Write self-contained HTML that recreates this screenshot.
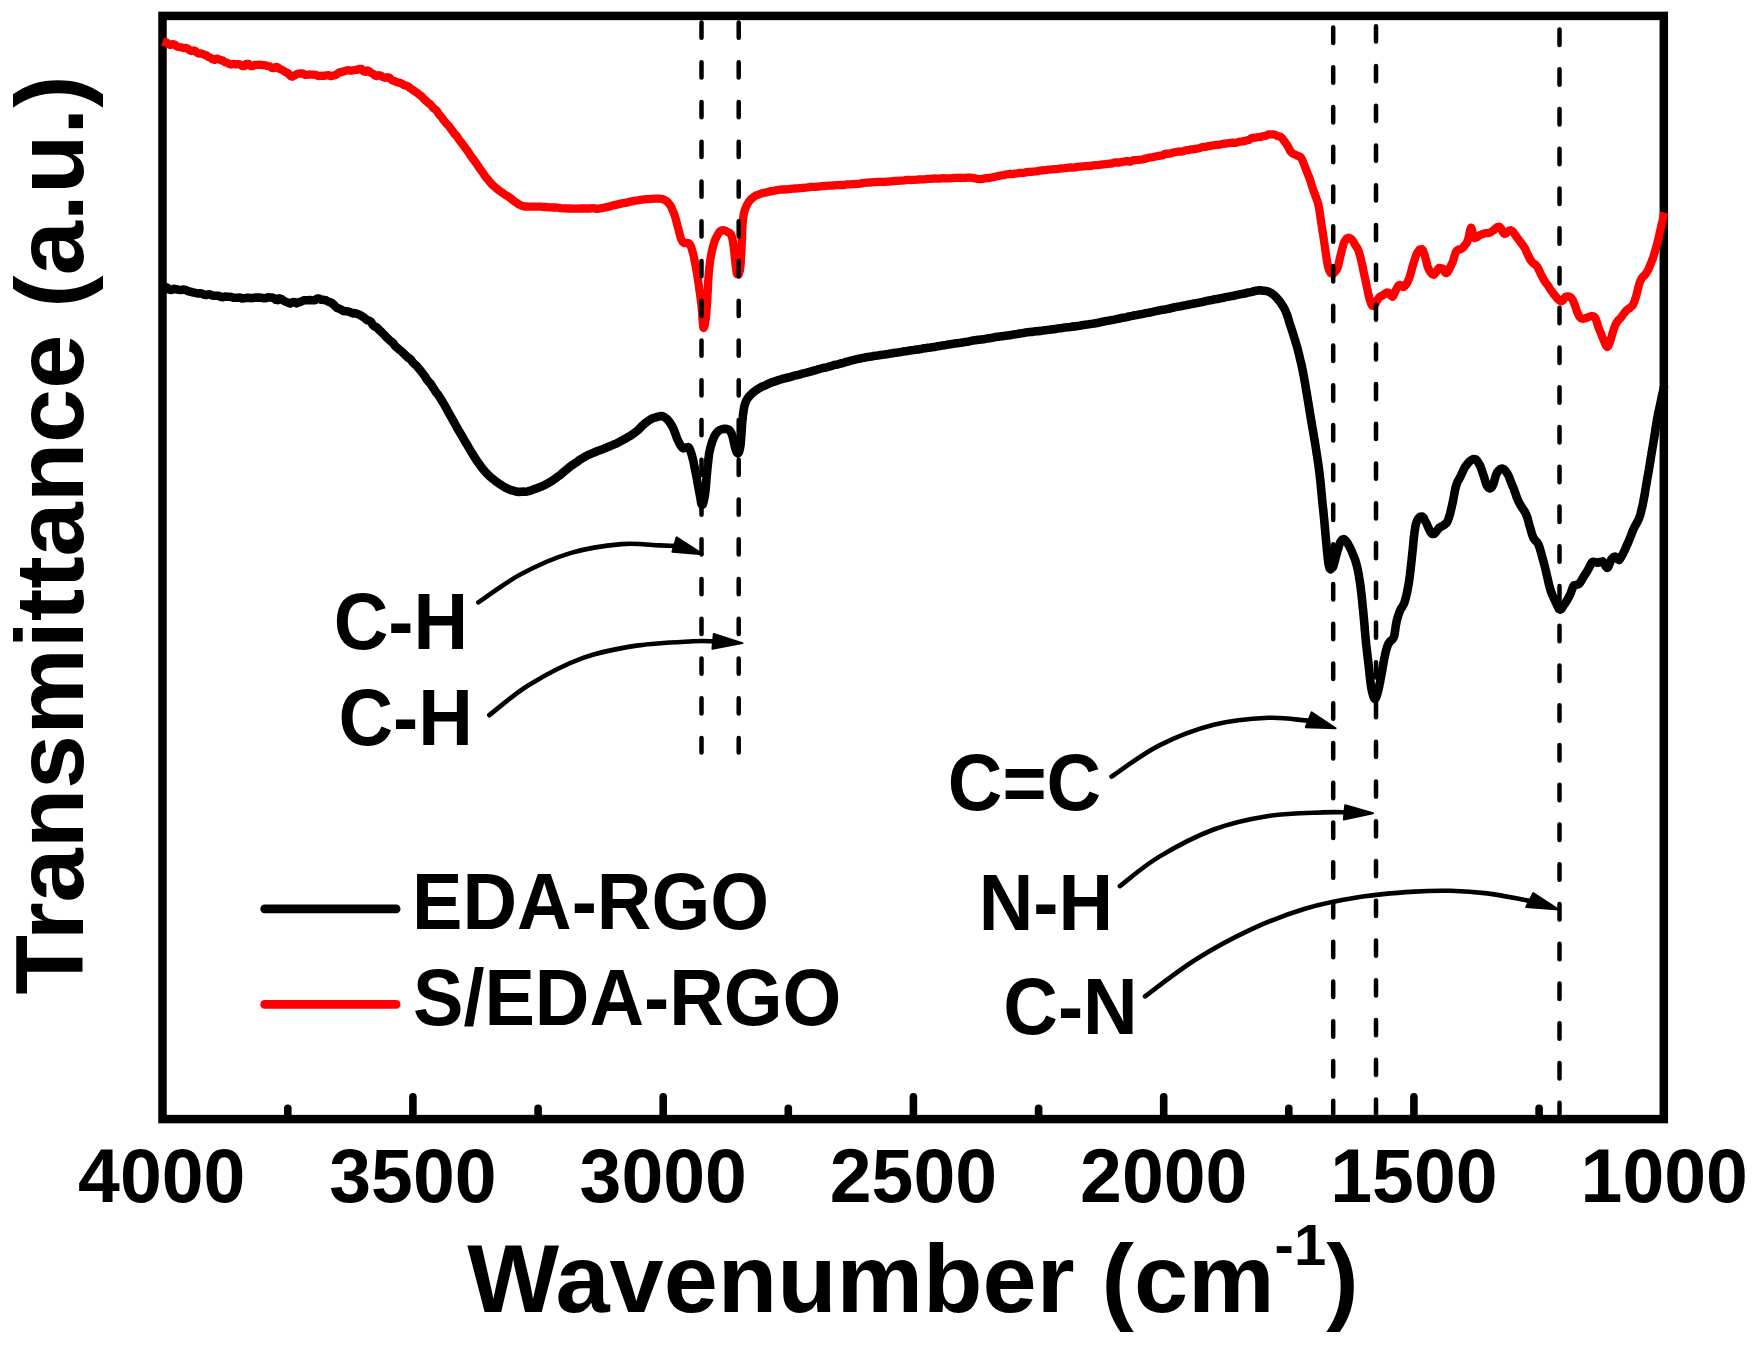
<!DOCTYPE html>
<html><head><meta charset="utf-8"><title>FTIR spectra</title>
<style>
html,body{margin:0;padding:0;background:#fff;}
body{width:1754px;height:1350px;overflow:hidden;}
svg{display:block;}
text{font-family:"Liberation Sans",Arial,Helvetica,sans-serif;font-weight:bold;fill:#000;}
</style></head><body>
<svg width="1754" height="1350" viewBox="0 0 1754 1350">
<rect x="0" y="0" width="1754" height="1350" fill="#fff"/>
<!-- frame -->
<rect x="162.5" y="15.9" width="1501.3" height="1103.2" fill="none" stroke="#000" stroke-width="8.5"/>
<!-- curves -->
<path d="M162.5 287.6L163.7 287.8L165.3 287.3L167.1 287.6L169.2 289.6L171.4 290.0L173.7 288.8L176.2 289.2L178.6 289.7L181.1 290.0L183.4 289.6L185.7 289.9L187.8 291.2L190.0 291.6L192.1 292.2L194.1 292.6L196.1 293.1L198.2 293.5L200.2 293.2L202.2 293.6L204.2 294.8L206.3 295.1L208.4 294.3L210.5 294.6L212.5 295.5L214.5 295.8L216.6 295.7L218.7 295.9L220.8 296.9L222.9 297.2L225.0 296.5L227.1 296.7L229.3 296.8L231.4 297.0L233.5 297.8L235.6 297.8L237.7 297.7L239.9 297.6L242.0 298.4L244.2 298.2L246.3 297.9L248.5 297.8L250.6 298.1L252.8 298.0L254.8 297.6L256.9 297.5L258.9 297.6L260.8 297.6L263.1 298.1L265.3 298.3L267.5 297.3L269.7 297.5L271.8 297.6L273.8 297.9L275.8 299.8L277.6 300.1L279.4 298.4L281.0 298.8L283.8 300.9L286.2 301.9L288.2 302.7L290.2 303.4L292.3 302.3L294.5 302.1L296.6 303.3L298.7 302.4L301.0 301.6L303.7 300.4L305.7 300.2L307.8 300.3L310.2 300.1L312.6 300.2L315.0 300.2L317.3 298.6L319.4 298.6L321.3 299.7L323.8 299.9L326.0 300.2L327.9 301.5L329.7 302.1L331.4 302.8L333.3 304.2L335.0 306.0L336.7 307.7L338.9 308.6L340.7 309.4L342.7 310.7L344.9 311.2L347.1 311.3L349.3 311.9L351.5 312.7L353.3 313.4L355.1 313.1L356.9 313.9L358.7 314.4L360.5 315.3L362.3 316.6L364.1 317.6L365.9 319.2L367.6 320.3L369.4 320.8L371.1 322.0L372.9 325.1L374.8 326.5L376.7 327.4L378.1 328.7L379.5 330.2L381.0 331.5L382.4 333.0L383.9 334.5L385.5 336.2L387.0 337.8L388.6 339.2L390.2 340.8L391.8 341.8L393.2 343.1L394.7 345.5L396.2 346.9L397.7 348.2L399.3 349.7L400.9 350.8L402.4 352.3L404.0 353.7L405.4 355.1L406.8 356.5L408.2 357.8L409.4 358.3L411.2 360.0L412.7 362.3L413.9 363.5L415.2 364.8L416.5 365.7L418.0 367.6L420.0 369.8L420.9 371.0L421.9 372.3L423.0 373.8L424.1 375.3L425.2 376.7L426.4 378.8L427.6 380.4L428.9 382.1L430.1 383.2L431.4 384.9L432.7 387.3L434.0 389.1L435.3 391.2L436.5 393.0L437.8 394.3L439.0 396.1L440.2 398.0L441.2 399.6L442.2 401.2L443.2 402.9L444.2 404.6L445.2 406.3L446.2 408.1L447.2 410.0L448.2 411.8L449.2 413.6L450.2 415.4L451.3 417.2L452.3 419.1L453.3 420.9L454.3 422.7L455.3 424.5L456.3 426.3L457.3 428.1L458.3 429.9L459.3 431.5L460.3 433.2L461.4 435.0L462.4 436.8L463.5 438.7L464.6 440.6L465.7 442.5L466.8 444.3L468.0 446.2L469.1 448.2L470.2 450.1L471.3 451.9L472.3 453.5L473.4 455.3L474.5 457.0L475.5 458.7L476.6 460.3L477.6 461.9L478.6 463.2L479.6 464.6L480.5 465.9L482.2 468.1L483.8 470.1L485.4 471.9L486.9 473.5L488.4 475.1L489.8 476.4L491.2 477.6L492.7 478.8L494.1 480.0L495.6 481.2L497.5 482.5L499.4 483.9L501.4 485.2L503.3 486.4L505.2 487.5L507.1 488.4L508.9 489.3L510.7 490.0L512.9 490.6L515.1 491.2L517.2 491.7L519.2 491.9L521.2 491.7L523.3 491.6L525.3 491.7L527.3 491.4L529.3 491.0L531.3 490.4L533.5 489.4L535.9 488.6L537.6 488.0L539.5 487.2L541.4 486.5L543.4 485.6L545.4 484.6L547.4 483.6L549.5 482.3L551.5 481.1L553.5 479.8L555.1 478.7L556.7 477.5L558.4 476.3L560.0 475.2L561.6 473.8L563.3 472.3L564.9 470.9L566.5 469.7L568.1 468.4L569.6 467.0L571.1 465.9L572.9 464.7L574.6 463.5L576.3 462.4L578.0 461.2L579.6 459.9L581.3 458.8L582.9 458.0L584.5 457.0L586.2 456.0L588.1 455.0L590.0 454.3L591.9 453.4L593.8 452.6L595.7 451.9L597.6 451.0L599.5 450.3L601.4 449.7L603.3 449.0L605.1 448.1L607.0 447.4L608.8 446.6L610.7 445.9L612.6 445.1L614.5 444.2L616.5 443.4L618.2 442.6L619.9 441.6L621.8 440.7L623.6 439.6L625.5 438.6L627.3 437.5L629.1 436.4L630.9 435.4L632.5 434.3L634.1 433.2L635.9 431.8L637.7 430.5L639.3 428.9L640.9 427.1L642.4 425.6L643.8 424.4L645.3 423.1L646.7 422.0L648.9 420.5L651.0 419.1L653.1 418.1L655.0 417.6L656.8 417.0L659.5 416.3L661.9 416.1L664.3 417.0L665.8 418.1L667.4 419.4L668.9 421.2L670.5 423.4L671.9 425.7L672.8 427.3L673.6 429.2L674.4 431.2L675.2 433.3L676.0 435.4L676.7 437.6L677.5 439.4L678.2 440.9L679.5 443.5L680.8 445.7L682.0 447.3L683.2 448.4L685.8 447.7L688.3 447.1L689.3 448.3L690.2 450.2L691.1 452.8L692.0 455.8L692.4 457.3L692.8 459.1L693.3 460.9L693.7 462.9L694.1 464.9L694.5 467.1L695.0 469.2L695.4 471.4L695.8 473.5L696.2 475.4L696.6 477.5L697.0 479.6L697.4 482.0L697.8 484.2L698.2 486.3L698.6 488.3L698.9 490.3L699.3 492.1L699.6 493.8L700.2 496.8L700.7 499.9L701.1 502.5L701.6 504.3L702.1 504.9L702.7 504.5L703.3 502.8L703.9 500.3L704.5 497.2L705.1 493.8L705.3 492.0L705.5 490.2L705.7 488.2L705.9 486.1L706.1 483.9L706.3 481.7L706.4 479.5L706.6 477.2L706.8 475.0L707.0 472.9L707.2 470.9L707.4 468.8L707.6 466.7L707.8 464.6L708.1 462.5L708.3 460.4L708.5 458.4L708.8 456.4L709.0 454.5L709.3 452.6L709.7 450.8L710.3 448.3L710.9 446.0L711.6 443.6L712.3 441.4L713.1 439.3L713.9 437.4L714.7 435.7L716.2 433.4L717.7 431.7L719.3 430.4L721.0 429.6L723.6 428.9L726.3 428.9L728.6 429.6L730.1 430.9L731.3 433.0L732.3 435.8L732.9 437.7L733.4 439.9L733.9 442.3L734.4 444.7L734.9 446.8L735.4 448.5L736.7 452.3L737.9 453.4L738.8 452.5L739.6 450.2L740.4 446.0L740.6 444.5L740.8 442.7L740.9 440.7L741.1 438.6L741.2 436.3L741.4 433.9L741.6 431.5L741.7 429.2L741.9 426.9L742.0 424.7L742.2 422.6L742.4 420.8L742.7 418.2L742.9 415.7L743.2 413.4L743.5 411.3L743.8 409.4L744.1 407.5L744.5 405.8L744.9 404.2L745.7 402.1L746.5 400.2L747.5 398.6L748.6 397.0L750.0 395.5L751.3 394.2L752.7 392.9L754.2 391.7L755.9 390.4L757.8 389.1L760.0 387.8L761.5 386.9L763.1 386.1L764.8 385.6L766.5 384.8L768.4 383.7L770.4 382.9L772.6 382.1L775.0 381.3L777.7 380.4L779.3 379.8L781.1 379.3L783.0 378.7L785.0 378.3L787.1 377.8L789.2 377.3L791.4 376.7L793.6 375.9L795.8 375.3L798.0 374.9L800.2 374.3L802.4 373.6L804.5 373.1L806.6 372.6L808.5 372.1L810.4 371.6L812.6 371.0L814.7 370.3L816.7 369.8L818.7 369.2L820.7 368.7L822.6 368.2L824.5 367.7L826.3 367.4L828.2 366.9L830.0 366.3L831.8 365.8L833.7 365.2L835.6 364.7L837.7 364.4L839.7 363.8L841.8 363.3L843.8 362.8L845.9 362.0L847.9 361.5L850.0 360.9L852.0 360.4L854.0 359.9L856.0 359.4L858.0 358.9L860.0 358.5L862.1 358.1L864.1 357.7L866.0 357.3L867.8 357.0L869.7 356.7L871.6 356.4L873.6 356.1L875.7 355.8L877.9 355.5L880.4 355.1L883.0 354.8L884.6 354.6L886.3 354.3L888.0 354.0L889.8 353.6L891.6 353.4L893.4 353.1L895.3 352.8L897.2 352.6L899.2 352.3L901.2 351.9L903.2 351.6L905.3 351.3L907.4 351.0L909.6 350.6L911.8 350.3L914.0 350.0L916.2 349.6L918.5 349.5L920.8 349.1L922.6 348.6L924.4 348.3L926.3 348.1L928.1 347.8L930.1 347.6L932.0 347.3L934.0 347.0L936.0 346.7L938.0 346.2L940.0 345.9L942.1 345.6L944.1 345.2L946.2 344.9L948.3 344.5L950.4 344.3L952.5 343.9L954.6 343.6L956.7 343.3L958.7 343.1L960.8 342.8L962.9 342.4L965.0 342.1L967.0 341.7L969.1 341.4L971.1 340.9L973.1 340.5L975.1 340.2L977.1 339.9L979.2 339.8L981.2 339.5L983.2 339.2L985.2 338.9L987.2 338.5L989.2 338.2L991.3 337.9L993.3 337.6L995.3 337.1L997.3 336.8L999.3 336.6L1001.3 336.3L1003.4 336.1L1005.4 335.8L1007.4 335.5L1009.4 335.2L1011.4 334.9L1013.4 334.6L1015.5 334.3L1017.5 334.0L1019.5 333.5L1021.5 333.2L1023.5 332.9L1025.6 332.6L1027.7 332.3L1029.8 332.0L1032.0 331.9L1034.1 331.6L1036.3 331.3L1038.5 331.1L1040.7 330.9L1042.9 330.6L1045.0 330.2L1047.2 330.0L1049.3 329.7L1051.5 329.4L1053.6 329.2L1055.6 328.9L1057.6 328.6L1059.6 328.3L1061.6 328.1L1063.4 327.8L1065.3 327.4L1067.0 327.2L1068.7 327.2L1070.3 327.0L1071.9 326.6L1074.8 326.4L1077.4 326.0L1079.7 325.7L1081.7 325.3L1083.5 325.0L1085.3 324.7L1087.0 324.5L1088.7 324.3L1090.5 324.0L1092.5 323.8L1094.6 323.4L1097.1 323.0L1098.8 322.7L1100.5 322.2L1102.4 321.8L1104.2 321.4L1106.1 321.1L1108.1 320.8L1110.1 320.4L1112.1 320.0L1114.2 319.6L1116.3 319.1L1118.3 318.7L1120.4 318.2L1122.5 317.8L1124.6 317.5L1126.7 317.1L1128.8 316.5L1130.9 316.1L1132.9 315.7L1134.9 315.3L1136.9 315.0L1138.9 314.6L1140.9 314.3L1142.9 313.9L1144.8 313.4L1146.8 313.0L1148.8 312.7L1150.8 312.3L1152.8 311.8L1154.8 311.4L1156.8 310.9L1158.8 310.5L1160.8 310.1L1162.8 309.7L1164.7 309.5L1166.7 309.1L1168.7 308.7L1170.7 308.3L1172.7 307.7L1174.7 307.3L1176.7 306.9L1178.8 306.5L1180.8 306.2L1182.9 305.8L1184.9 305.4L1187.0 305.0L1189.0 304.5L1191.1 304.1L1193.1 303.7L1195.2 303.3L1197.2 303.0L1199.2 302.6L1201.1 302.3L1203.1 301.9L1205.0 301.3L1206.9 300.9L1208.7 300.5L1210.5 300.2L1212.7 299.8L1215.0 299.3L1217.2 298.9L1219.5 298.5L1221.7 298.1L1223.8 297.7L1225.9 297.1L1228.0 296.7L1230.0 296.4L1231.9 296.0L1233.7 295.7L1235.5 295.3L1237.1 294.9L1238.6 294.6L1240.0 294.2L1243.2 293.8L1245.4 293.3L1246.9 292.8L1248.3 292.5L1250.0 292.3L1252.0 291.9L1254.1 291.2L1256.1 290.8L1258.2 290.4L1260.2 290.3L1262.3 290.6L1264.3 290.8L1266.4 291.0L1268.4 291.6L1270.2 292.5L1271.9 293.5L1273.4 294.6L1274.9 295.9L1276.3 297.4L1277.8 299.1L1279.1 300.7L1280.4 302.4L1281.7 304.3L1283.0 306.3L1284.2 308.3L1285.3 310.5L1286.1 312.5L1286.9 314.4L1287.6 316.5L1288.3 318.7L1288.9 320.9L1289.6 323.3L1290.4 325.7L1291.0 327.3L1291.6 329.2L1292.2 331.2L1292.9 333.2L1293.6 335.4L1294.2 337.5L1294.9 339.6L1295.5 341.7L1296.1 343.7L1296.7 345.7L1297.3 347.7L1297.8 349.7L1298.3 351.7L1298.9 354.0L1299.4 356.0L1299.8 358.0L1300.3 360.0L1300.8 362.0L1301.3 364.0L1301.7 365.8L1302.1 367.8L1302.5 369.7L1302.9 371.5L1303.2 373.4L1303.6 375.3L1304.0 377.2L1304.3 379.2L1304.7 381.3L1305.1 383.5L1305.5 386.0L1305.8 387.7L1306.1 389.5L1306.4 391.4L1306.7 393.3L1307.1 395.3L1307.4 397.3L1307.7 399.4L1308.1 401.5L1308.4 403.6L1308.8 405.7L1309.1 407.9L1309.5 410.0L1309.8 412.2L1310.2 414.2L1310.5 416.3L1310.8 418.3L1311.2 420.3L1311.5 422.4L1311.9 424.5L1312.2 426.5L1312.6 428.7L1313.0 430.8L1313.3 432.9L1313.7 434.9L1314.0 436.9L1314.3 438.9L1314.7 440.9L1315.0 442.8L1315.3 444.7L1315.6 446.6L1316.0 448.9L1316.3 451.1L1316.6 453.3L1317.0 455.4L1317.3 457.5L1317.6 459.5L1317.9 461.5L1318.2 463.6L1318.5 465.6L1318.8 467.6L1319.0 469.7L1319.3 471.8L1319.6 473.9L1319.8 476.0L1320.0 478.1L1320.3 480.2L1320.5 482.3L1320.7 484.4L1320.9 486.5L1321.1 488.6L1321.3 490.7L1321.5 492.8L1321.7 494.9L1321.9 497.0L1322.1 499.1L1322.3 501.2L1322.5 503.3L1322.7 505.4L1322.9 507.4L1323.2 509.5L1323.4 511.6L1323.6 513.6L1323.8 515.8L1324.0 517.9L1324.2 520.0L1324.4 522.2L1324.6 524.3L1324.8 526.5L1325.0 528.7L1325.2 531.0L1325.4 533.3L1325.6 535.6L1325.8 537.7L1326.0 539.9L1326.2 542.1L1326.4 544.2L1326.6 546.2L1326.7 548.0L1326.9 549.7L1327.2 552.7L1327.5 555.3L1327.7 557.7L1328.0 559.8L1328.2 561.8L1328.4 563.4L1328.7 564.9L1329.6 568.3L1330.5 569.4L1333.0 567.1L1333.5 565.7L1334.0 563.8L1334.6 561.6L1335.2 559.3L1335.8 556.9L1336.4 554.6L1337.0 552.7L1337.7 550.2L1338.4 547.6L1339.1 545.4L1339.8 543.4L1340.5 541.9L1342.1 539.6L1343.8 539.1L1345.2 540.0L1346.7 541.9L1348.3 544.4L1349.1 545.9L1350.0 547.6L1350.9 549.5L1351.8 551.5L1352.6 553.5L1353.4 555.4L1354.1 557.2L1354.8 558.9L1355.4 560.7L1355.9 562.5L1356.5 564.5L1357.1 566.9L1357.5 568.6L1357.9 570.3L1358.2 572.2L1358.6 574.2L1359.0 576.2L1359.3 578.4L1359.7 580.6L1360.0 583.0L1360.4 585.5L1360.6 587.4L1360.9 589.3L1361.1 591.3L1361.4 593.4L1361.6 595.6L1361.8 597.8L1362.1 600.0L1362.3 602.3L1362.5 604.5L1362.7 606.8L1363.0 609.0L1363.2 611.2L1363.4 613.4L1363.6 615.5L1363.8 617.8L1364.0 619.9L1364.2 622.1L1364.4 624.2L1364.6 626.3L1364.7 628.5L1364.9 630.6L1365.1 632.7L1365.3 634.8L1365.5 637.0L1365.7 639.1L1365.9 641.2L1366.1 643.4L1366.3 645.3L1366.6 647.5L1366.8 649.8L1367.1 652.0L1367.3 654.2L1367.6 656.4L1367.8 658.6L1368.1 660.7L1368.3 662.8L1368.6 664.8L1368.8 666.8L1369.0 668.9L1369.3 671.3L1369.5 673.6L1369.8 675.8L1370.0 678.0L1370.2 680.1L1370.5 682.1L1370.7 684.0L1371.0 685.8L1371.2 687.5L1371.5 688.8L1372.1 691.8L1372.8 694.4L1373.4 696.6L1374.1 698.2L1374.8 699.0L1375.6 698.5L1376.4 696.7L1377.2 694.3L1378.0 691.5L1378.4 689.8L1378.9 687.9L1379.3 685.8L1379.7 683.6L1380.2 681.4L1380.6 679.0L1381.1 676.5L1381.4 674.7L1381.8 672.7L1382.2 670.6L1382.5 668.2L1382.9 666.0L1383.3 663.9L1383.7 661.8L1384.0 659.8L1384.4 657.9L1384.8 656.2L1385.4 653.3L1386.0 650.9L1386.6 648.7L1387.2 646.7L1387.9 644.9L1388.6 643.6L1389.8 641.7L1391.2 640.4L1392.6 639.2L1393.7 637.2L1394.2 636.0L1394.6 634.1L1394.9 632.1L1395.2 630.0L1395.5 627.8L1395.8 625.7L1396.2 623.7L1396.7 621.0L1397.3 618.8L1397.9 616.6L1398.6 614.5L1399.3 612.6L1400.0 610.7L1400.9 608.7L1402.0 607.3L1403.0 605.5L1404.1 603.5L1405.0 600.5L1405.5 598.9L1405.9 597.2L1406.4 595.4L1406.8 593.5L1407.2 591.6L1407.6 589.8L1408.0 587.6L1408.4 585.4L1408.8 583.0L1409.1 581.2L1409.3 579.3L1409.6 577.4L1409.9 575.3L1410.1 573.3L1410.3 571.4L1410.6 569.3L1410.8 567.1L1411.1 564.9L1411.3 562.7L1411.6 560.4L1411.8 558.2L1412.0 556.3L1412.2 554.2L1412.4 552.1L1412.7 549.9L1412.9 547.7L1413.1 545.5L1413.3 543.3L1413.5 541.1L1413.7 539.0L1413.9 537.0L1414.2 535.1L1414.4 533.3L1414.6 531.7L1414.8 530.2L1415.4 526.3L1416.0 523.8L1416.6 522.0L1417.2 520.5L1417.9 519.2L1420.0 516.8L1422.2 516.5L1423.6 517.8L1425.0 520.7L1426.4 523.3L1427.4 525.5L1428.3 527.5L1429.3 529.8L1430.2 531.6L1432.0 533.9L1434.0 534.0L1435.5 532.6L1437.2 530.4L1439.0 527.9L1441.1 526.6L1443.3 525.5L1445.3 524.0L1446.4 523.1L1447.4 521.5L1448.2 519.6L1449.1 516.9L1449.6 515.2L1450.2 513.3L1450.7 511.2L1451.2 509.1L1451.8 506.6L1452.3 504.3L1452.8 502.0L1453.2 500.0L1453.6 497.8L1454.0 495.6L1454.4 493.7L1454.8 491.5L1455.2 489.4L1455.6 487.5L1456.1 485.8L1457.1 482.8L1458.1 480.7L1459.3 478.8L1460.4 476.6L1461.4 474.6L1462.3 472.5L1463.4 470.2L1464.4 468.2L1465.4 466.4L1466.7 464.9L1468.0 463.2L1469.2 461.8L1470.5 460.7L1473.1 459.1L1475.5 459.2L1476.9 460.5L1478.1 462.2L1479.3 464.5L1480.1 465.5L1480.8 467.5L1481.6 469.6L1482.3 471.8L1483.1 474.1L1483.9 476.4L1484.6 479.0L1485.4 481.5L1486.2 483.9L1486.9 485.6L1488.6 487.8L1490.1 488.4L1491.6 487.4L1493.1 484.6L1493.8 482.7L1494.5 480.3L1495.2 477.7L1496.0 474.9L1496.9 472.9L1498.5 470.7L1500.3 469.1L1502.0 468.5L1503.7 469.2L1505.3 470.7L1507.0 473.0L1507.8 474.4L1508.7 476.2L1509.5 478.1L1510.3 480.4L1511.2 482.5L1512.0 484.6L1512.7 486.5L1513.5 488.0L1514.2 490.1L1515.0 492.2L1515.7 494.2L1516.4 496.5L1517.1 498.2L1518.1 500.6L1519.0 502.4L1519.9 504.1L1520.9 505.9L1522.1 507.8L1523.4 509.6L1524.7 511.5L1525.9 513.8L1526.6 515.6L1527.3 517.5L1527.9 519.7L1528.5 521.9L1529.1 524.2L1529.7 526.3L1530.3 528.2L1530.9 530.3L1531.5 532.5L1532.1 534.5L1532.8 536.4L1533.5 538.1L1534.7 539.9L1536.0 541.2L1537.3 542.5L1538.5 544.7L1539.2 546.5L1539.9 548.5L1540.5 550.8L1541.1 552.6L1541.7 555.0L1542.3 557.3L1542.8 559.2L1543.3 561.1L1543.9 563.1L1544.4 565.0L1544.9 567.0L1545.4 569.1L1546.0 571.3L1546.4 573.5L1546.9 575.5L1547.4 577.6L1547.9 579.7L1548.3 581.8L1548.8 583.9L1549.3 585.6L1549.8 587.5L1550.3 589.2L1551.0 591.5L1551.8 593.6L1552.6 595.4L1553.3 597.1L1554.1 598.8L1554.9 600.5L1555.9 602.6L1556.9 604.9L1557.9 607.0L1558.9 608.9L1559.9 609.6L1561.1 609.2L1562.4 607.4L1563.6 605.3L1564.9 603.6L1565.9 602.0L1567.0 600.3L1568.0 598.4L1569.1 596.6L1570.0 594.8L1571.0 592.4L1571.9 589.9L1572.8 587.6L1573.8 585.4L1576.2 584.8L1578.8 584.1L1580.0 582.7L1581.3 580.8L1582.5 578.7L1583.8 576.5L1584.8 574.8L1585.9 573.2L1587.0 571.4L1588.0 569.6L1588.9 568.1L1590.2 565.6L1591.3 563.3L1592.6 561.7L1595.1 562.0L1597.7 562.8L1600.2 561.9L1602.7 561.4L1604.3 563.7L1605.8 566.6L1607.3 567.9L1608.4 566.6L1609.5 564.1L1610.5 561.3L1611.5 559.2L1613.4 557.2L1615.3 556.6L1617.1 558.7L1619.1 560.1L1620.0 558.8L1621.0 557.3L1622.0 555.3L1623.1 553.6L1624.1 551.5L1624.9 549.8L1625.8 547.6L1626.6 545.7L1627.5 543.8L1628.4 542.0L1629.2 540.0L1630.0 538.0L1630.9 535.7L1631.7 533.5L1632.5 531.4L1633.4 529.3L1634.2 527.7L1635.2 525.7L1636.3 523.9L1637.3 521.8L1638.3 520.0L1639.2 517.8L1639.8 516.1L1640.4 514.3L1640.9 512.3L1641.4 510.3L1641.9 508.1L1642.5 505.8L1643.0 503.3L1643.3 501.6L1643.7 499.8L1644.0 497.9L1644.4 496.0L1644.7 494.0L1645.1 491.9L1645.4 489.8L1645.8 487.7L1646.1 485.7L1646.5 483.6L1646.8 481.6L1647.1 479.5L1647.5 477.5L1647.8 475.9L1648.2 473.9L1648.5 471.8L1648.9 469.7L1649.2 467.7L1649.6 465.6L1649.9 463.5L1650.3 461.4L1650.6 459.2L1650.9 457.1L1651.3 455.0L1651.6 453.0L1652.0 450.9L1652.3 448.9L1652.7 446.8L1653.0 444.8L1653.4 442.5L1653.7 440.5L1654.1 438.4L1654.4 436.4L1654.7 434.3L1655.0 432.3L1655.3 430.3L1655.6 428.3L1655.9 426.4L1656.3 424.4L1656.6 422.4L1656.9 420.3L1657.3 418.2L1657.7 416.0L1658.1 413.7L1658.5 412.3L1658.9 410.2L1659.4 408.0L1659.9 405.8L1660.4 403.5L1660.9 401.1L1661.4 398.5L1661.9 396.2L1662.4 394.1L1662.9 392.1L1663.3 390.2L1663.7 388.6L1664.0 387.0L1664.3 385.8" fill="none" stroke="#000" stroke-width="8.6" stroke-linejoin="round" stroke-linecap="butt"/>
<path d="M162.5 41.8L163.6 42.2L165.0 42.1L166.7 42.6L168.5 44.4L170.5 45.0L172.6 44.1L174.8 44.7L177.1 46.6L179.4 47.2L181.6 47.4L183.8 48.1L185.9 47.9L187.8 48.6L189.8 50.4L191.7 51.0L193.6 50.5L195.5 51.2L197.3 52.9L199.2 53.6L201.0 53.4L202.9 54.1L204.7 54.8L206.6 55.5L208.5 57.0L210.5 57.6L212.5 59.3L214.5 59.9L216.6 58.6L218.7 59.2L220.8 60.1L222.9 60.6L225.0 62.2L227.1 62.7L229.3 64.1L231.4 64.5L233.5 63.9L235.6 64.3L237.7 64.1L239.9 64.4L242.0 66.0L244.2 66.2L246.3 63.9L248.5 64.0L250.6 66.1L252.8 66.2L254.8 64.8L256.9 64.9L258.9 64.7L260.8 64.9L263.1 65.1L265.3 65.3L267.5 66.0L269.7 66.3L271.8 67.9L273.8 68.2L275.8 66.9L277.6 67.3L279.4 68.8L281.0 69.3L283.4 70.6L285.5 72.1L287.4 72.9L289.0 74.4L290.7 76.1L292.3 76.8L294.4 75.5L296.0 74.7L298.0 73.6L301.1 73.4L302.7 73.4L304.5 74.8L306.6 74.9L308.8 74.5L311.0 74.7L313.4 74.6L315.7 74.9L318.0 75.8L320.1 76.0L322.1 75.7L323.8 75.8L326.5 75.3L328.8 75.1L330.9 76.2L332.8 75.8L334.6 75.2L336.4 74.7L338.5 72.9L340.4 72.0L342.2 72.0L344.2 71.2L346.5 70.5L348.4 70.1L350.4 70.7L352.6 70.5L354.9 69.9L357.1 69.9L359.4 68.8L361.6 69.0L363.5 71.3L365.4 71.9L367.3 70.4L369.2 71.2L371.0 72.8L372.9 73.7L374.8 75.4L376.7 76.1L378.9 75.2L381.0 75.8L383.2 77.2L385.3 77.8L387.5 77.2L389.6 77.8L391.8 80.1L393.7 80.8L395.6 81.7L397.5 82.4L399.4 82.6L401.2 83.3L403.1 84.5L405.0 85.4L406.9 85.8L408.6 86.8L410.3 88.2L411.9 89.3L413.6 90.4L415.3 91.6L417.0 92.8L418.6 94.1L420.3 95.3L422.0 96.7L423.5 98.5L425.0 99.9L426.6 101.4L428.1 102.9L429.6 103.8L431.1 105.3L432.6 107.2L434.2 108.8L435.7 109.7L437.2 111.4L438.5 113.6L439.7 115.1L441.0 116.5L442.2 118.0L443.5 120.0L444.8 121.6L446.0 123.0L447.3 124.6L448.5 125.6L449.8 127.3L451.0 129.0L452.3 130.7L453.6 132.6L454.8 134.3L456.1 135.2L457.3 136.8L458.6 139.0L459.9 140.7L461.1 142.3L462.4 144.0L463.6 145.6L464.9 147.4L466.1 149.0L467.4 150.8L468.6 152.4L469.8 154.4L471.0 156.2L472.2 157.9L473.4 159.4L474.7 161.1L475.9 162.9L477.1 164.6L478.2 166.3L479.4 167.9L480.5 169.5L481.5 171.0L482.5 172.3L484.0 174.6L485.3 176.4L486.4 178.0L487.6 179.1L488.7 180.5L489.8 181.9L491.1 183.5L492.6 185.0L494.1 186.3L495.6 187.7L497.3 189.1L499.0 190.4L500.7 191.6L502.5 192.9L504.2 194.1L506.0 195.3L507.7 196.2L509.6 197.5L511.4 199.0L513.1 200.4L514.9 201.7L516.8 202.9L518.7 204.3L520.7 205.3L522.8 206.1L524.6 206.6L526.5 206.5L528.4 206.6L530.4 206.7L532.4 206.7L534.5 206.7L536.6 206.7L538.7 206.7L540.9 206.7L543.0 206.9L545.0 207.0L546.9 207.2L548.9 207.4L551.0 207.4L553.0 207.5L555.1 207.5L557.1 207.7L559.2 208.0L561.3 208.2L563.5 208.3L565.6 208.3L567.6 208.5L569.7 208.5L571.9 208.7L574.1 208.7L576.4 208.6L578.6 208.6L580.8 208.5L582.9 208.5L584.9 208.5L586.7 208.5L588.5 208.5L590.0 208.5L592.8 208.2L594.6 208.3L596.1 208.8L597.7 208.8L600.0 208.4L601.7 208.2L603.6 207.8L605.6 207.4L607.8 206.9L610.0 206.4L612.3 205.6L614.5 205.1L616.8 204.6L618.9 204.1L621.0 203.6L623.2 203.1L625.4 202.9L627.6 202.4L629.8 201.7L632.0 201.3L634.0 200.9L636.0 200.5L637.8 200.3L640.3 199.9L642.5 199.6L644.5 199.3L646.4 199.2L648.4 199.1L650.4 198.9L652.6 198.8L654.8 198.7L657.1 198.6L659.3 198.7L661.3 198.9L663.0 199.2L665.6 200.4L667.5 202.0L669.3 204.0L670.4 205.6L671.5 207.4L672.4 209.9L673.4 212.1L674.3 214.4L674.9 216.2L675.5 218.0L676.0 220.1L676.6 222.2L677.1 224.3L677.6 226.3L678.1 227.9L678.8 230.5L679.4 233.0L680.0 235.4L680.6 237.5L681.2 239.3L682.7 241.9L684.4 243.1L686.6 243.0L688.8 243.1L689.9 244.4L690.9 246.4L691.9 249.3L692.3 250.9L692.8 252.6L693.3 254.6L693.8 256.6L694.3 258.8L694.8 261.5L695.2 263.8L695.7 266.1L696.0 267.9L696.4 269.9L696.7 271.9L697.1 273.9L697.4 276.0L697.7 278.1L698.0 280.2L698.3 282.2L698.6 284.3L698.9 286.2L699.2 288.4L699.5 290.6L699.8 292.8L700.1 294.7L700.4 296.8L700.7 298.9L700.9 301.0L701.2 303.0L701.4 304.9L701.6 307.3L701.8 309.7L702.0 312.0L702.2 314.2L702.3 316.3L702.5 318.2L702.6 320.0L702.8 322.9L703.1 325.4L703.3 327.3L703.6 328.0L704.0 327.4L704.6 325.7L705.1 323.1L705.6 319.8L705.8 318.2L706.0 316.4L706.2 314.5L706.3 312.5L706.5 310.3L706.7 308.1L706.9 305.7L707.0 303.3L707.2 300.9L707.3 299.0L707.4 297.0L707.5 294.9L707.7 292.7L707.8 290.5L707.9 288.3L708.0 286.1L708.1 283.9L708.2 281.7L708.3 279.6L708.5 277.6L708.6 275.7L708.8 273.3L709.0 271.0L709.2 268.8L709.5 266.6L709.7 264.6L710.0 262.6L710.2 260.6L710.5 258.7L710.8 257.0L711.2 254.7L711.6 252.5L712.1 250.5L712.5 248.5L713.0 246.6L713.5 244.8L714.0 243.1L714.9 240.4L715.9 238.1L716.8 236.3L717.8 234.6L719.6 231.7L721.5 230.4L723.6 230.2L725.9 231.0L727.6 232.0L729.5 232.9L731.0 234.4L731.7 236.1L732.2 238.0L732.7 240.3L733.1 242.9L733.5 245.5L733.8 247.5L734.0 249.7L734.3 252.0L734.5 254.4L734.7 256.8L735.0 259.1L735.2 261.3L735.4 263.2L735.7 266.0L736.1 268.7L736.4 270.9L736.7 272.7L737.0 274.1L738.5 274.7L739.1 273.1L739.8 270.8L740.4 266.9L740.5 265.4L740.7 263.7L740.8 261.8L740.9 259.8L741.0 257.7L741.1 255.5L741.3 253.2L741.4 250.9L741.5 248.7L741.6 246.4L741.7 244.5L741.8 242.5L741.9 240.5L742.0 238.3L742.1 236.2L742.1 234.0L742.2 231.9L742.3 229.8L742.4 227.7L742.5 225.7L742.6 223.9L742.8 222.1L742.9 220.5L743.2 217.7L743.6 215.3L743.9 213.3L744.4 211.6L744.9 209.9L745.5 208.1L746.4 206.1L747.4 204.1L748.5 202.3L749.7 200.7L751.1 199.2L752.6 197.9L754.1 196.6L755.7 195.7L757.7 194.9L760.0 194.0L761.6 193.4L763.3 192.9L765.2 192.7L767.1 192.2L769.2 191.6L771.4 191.1L773.8 190.8L776.3 190.2L778.1 190.0L780.1 189.7L782.1 189.4L784.3 189.5L786.5 189.3L788.8 189.1L791.0 188.9L793.3 188.7L795.5 188.5L797.6 188.3L799.6 188.1L801.5 188.0L803.8 187.8L805.9 187.6L807.9 187.4L809.8 187.0L811.7 186.9L813.6 186.9L815.6 186.8L817.7 186.6L820.0 186.4L821.9 186.1L823.8 186.0L825.8 185.8L827.8 185.7L829.9 185.6L832.1 185.5L834.2 185.3L836.4 185.1L838.6 185.2L840.7 185.0L842.9 185.0L845.0 184.8L847.0 184.4L848.9 184.3L850.7 184.4L852.5 184.2L854.3 184.1L856.1 183.9L858.0 183.8L860.1 183.6L862.3 183.1L864.7 182.9L867.4 182.7L870.4 182.5L872.0 182.4L873.6 182.2L875.3 182.1L877.2 182.0L879.0 181.8L881.0 181.9L883.0 181.8L885.0 181.8L887.1 181.6L889.2 181.5L891.3 181.3L893.5 181.0L895.7 180.8L897.9 180.8L900.1 180.6L902.3 180.6L904.5 180.4L906.7 179.9L908.8 179.8L910.9 180.0L913.0 179.8L915.0 179.8L917.0 179.7L918.9 179.5L920.8 179.4L923.1 179.3L925.4 179.2L927.8 178.9L930.1 178.8L932.4 178.6L934.8 178.5L937.1 178.7L939.3 178.6L941.6 178.3L943.8 178.2L946.0 178.3L948.1 178.3L950.1 178.3L952.1 178.2L954.0 177.9L955.8 177.8L957.5 177.8L959.1 177.7L960.6 178.0L962.0 177.9L965.7 177.8L968.3 177.6L970.1 177.7L971.5 177.8L972.6 178.0L974.0 178.1L976.7 178.8L978.8 179.1L981.0 179.2L982.7 179.0L984.2 178.5L986.1 178.1L989.0 178.0L990.4 177.7L991.9 177.5L993.5 177.2L995.2 176.7L997.1 176.3L999.1 175.8L1001.2 175.4L1003.6 175.1L1006.1 174.5L1008.9 174.1L1010.5 173.9L1012.1 174.1L1013.7 173.9L1015.5 173.5L1017.2 173.3L1019.1 173.0L1021.0 172.8L1022.9 172.8L1024.9 172.6L1026.9 172.1L1029.0 171.9L1031.1 171.9L1033.2 171.6L1035.4 171.4L1037.6 171.1L1039.8 170.6L1042.1 170.3L1044.4 170.1L1046.7 169.9L1048.5 169.7L1050.3 169.5L1052.2 169.3L1054.2 169.1L1056.2 169.1L1058.2 168.9L1060.3 168.5L1062.3 168.3L1064.4 168.2L1066.6 168.0L1068.7 167.6L1070.8 167.4L1073.0 167.6L1075.1 167.4L1077.2 166.9L1079.4 166.7L1081.5 166.6L1083.5 166.4L1085.6 166.2L1087.6 166.0L1089.6 166.0L1091.6 165.8L1093.5 165.3L1095.3 165.2L1097.1 165.2L1099.4 165.0L1101.6 164.5L1103.8 164.3L1105.9 164.1L1107.9 163.9L1110.0 163.7L1112.0 163.5L1113.9 162.7L1115.8 162.4L1117.7 162.7L1119.6 162.5L1121.5 162.0L1123.4 161.8L1125.3 161.3L1127.2 161.0L1129.1 161.7L1131.0 161.5L1132.9 160.4L1134.9 160.1L1136.9 160.1L1138.9 159.8L1140.9 159.7L1142.9 159.4L1144.8 158.8L1146.8 158.4L1148.8 157.7L1150.8 157.3L1152.8 157.1L1154.8 156.7L1156.8 156.3L1158.8 155.9L1160.8 155.7L1162.8 155.3L1164.7 154.0L1166.7 153.6L1168.7 153.8L1170.7 153.4L1172.7 152.6L1174.7 152.2L1176.7 151.8L1178.8 151.5L1180.8 151.7L1182.9 151.3L1184.9 150.5L1187.0 150.1L1189.0 149.8L1191.1 149.4L1193.1 149.3L1195.2 148.9L1197.2 148.7L1199.2 148.3L1201.1 147.4L1203.1 147.0L1205.0 146.9L1206.9 146.6L1208.7 146.1L1210.5 145.8L1212.9 145.4L1215.3 145.0L1217.6 144.9L1220.0 144.6L1222.2 144.0L1224.5 143.7L1226.7 143.5L1228.8 143.2L1230.9 142.9L1232.9 142.6L1234.8 142.9L1236.6 142.6L1238.4 142.0L1240.0 141.7L1242.9 141.4L1245.4 140.8L1247.5 140.3L1249.4 139.7L1251.2 138.3L1253.1 137.8L1255.1 137.7L1257.3 137.2L1259.6 137.1L1261.8 136.6L1264.1 136.0L1266.3 135.6L1268.3 134.5L1270.2 134.4L1272.6 134.4L1274.8 134.7L1276.8 135.6L1278.6 136.3L1280.3 136.8L1282.2 138.3L1283.8 140.4L1285.2 142.5L1286.6 144.3L1287.8 146.2L1288.9 148.2L1290.1 150.9L1291.6 152.6L1293.2 153.8L1295.0 154.5L1296.9 155.4L1298.8 156.3L1300.5 157.1L1301.5 158.5L1302.5 160.3L1303.4 162.8L1304.2 164.8L1305.1 167.0L1305.9 169.2L1306.8 171.5L1307.5 173.3L1308.2 175.2L1308.9 176.6L1309.6 178.6L1310.3 180.7L1311.0 182.7L1311.7 185.5L1312.4 187.4L1313.0 189.3L1313.8 191.5L1314.6 193.6L1315.3 195.6L1316.1 197.6L1316.8 199.7L1317.4 201.2L1318.1 203.7L1318.5 205.5L1318.9 207.4L1319.2 209.3L1319.6 211.3L1319.9 213.4L1320.3 216.2L1320.6 218.4L1320.9 220.6L1321.2 222.8L1321.6 225.0L1321.9 227.2L1322.2 229.2L1322.5 231.3L1322.9 233.0L1323.2 235.2L1323.5 237.4L1323.8 239.7L1324.1 241.9L1324.5 244.1L1324.8 246.1L1325.0 248.2L1325.3 250.0L1325.6 251.9L1326.0 254.7L1326.4 257.2L1326.7 259.5L1327.1 261.7L1327.4 263.6L1327.8 265.4L1328.2 267.5L1329.3 270.6L1330.5 272.8L1331.9 273.6L1333.5 273.5L1335.3 271.6L1337.0 269.2L1337.6 267.6L1338.2 265.9L1338.7 263.6L1339.2 261.2L1339.8 258.8L1340.3 256.5L1340.8 254.4L1341.4 252.1L1342.0 249.7L1342.6 247.4L1343.2 245.3L1343.8 243.2L1344.5 241.6L1346.6 238.6L1348.8 237.7L1351.0 238.7L1353.4 241.6L1354.2 243.3L1355.1 244.7L1356.0 246.3L1356.9 247.4L1357.9 249.3L1358.8 251.5L1359.6 254.5L1360.1 256.1L1360.6 258.0L1361.1 259.9L1361.5 261.9L1362.0 264.0L1362.5 266.1L1362.9 268.3L1363.3 270.5L1363.8 272.7L1364.2 274.8L1364.7 276.9L1365.2 278.6L1365.6 280.9L1366.1 283.1L1366.6 285.5L1367.0 287.8L1367.5 290.0L1368.0 292.5L1368.4 294.5L1368.9 296.4L1369.3 298.1L1369.7 299.5L1371.0 303.6L1372.2 305.7L1373.5 306.1L1374.6 305.0L1375.8 303.0L1377.1 300.5L1378.5 298.1L1380.0 296.6L1381.7 296.1L1383.4 294.9L1384.8 293.8L1386.9 292.5L1388.6 292.7L1389.9 294.3L1391.1 295.8L1392.4 296.8L1393.4 295.8L1394.3 293.8L1395.3 291.5L1396.2 289.5L1397.5 287.1L1398.7 285.2L1400.0 284.9L1401.8 286.3L1403.7 287.0L1404.9 286.0L1406.2 284.4L1407.5 282.1L1408.8 279.2L1409.4 277.7L1409.9 275.8L1410.5 274.1L1411.1 272.0L1411.7 269.8L1412.2 267.6L1412.8 265.5L1413.3 264.1L1413.8 262.4L1414.6 259.8L1415.4 257.5L1416.1 255.4L1416.8 253.6L1417.6 252.2L1419.8 249.3L1421.9 249.2L1422.8 250.1L1423.5 251.9L1424.3 254.1L1425.1 256.5L1425.7 259.2L1426.3 261.4L1426.9 263.8L1427.5 266.1L1428.2 267.8L1428.9 269.6L1430.5 272.2L1432.3 274.2L1434.0 274.8L1435.3 273.3L1436.6 271.4L1437.8 269.3L1439.0 267.9L1442.8 268.5L1444.0 270.3L1445.2 272.7L1446.5 273.2L1447.4 272.4L1448.4 270.9L1449.5 268.6L1450.6 266.4L1451.6 264.1L1452.3 263.1L1453.0 261.0L1453.7 258.7L1454.4 256.5L1455.1 254.0L1455.8 252.2L1456.6 250.7L1458.6 249.5L1460.8 249.3L1462.9 247.7L1464.0 246.4L1465.1 244.7L1466.2 243.7L1467.1 241.7L1468.0 239.7L1468.8 236.4L1469.4 233.5L1470.0 230.7L1470.6 228.5L1471.2 227.6L1471.8 229.2L1472.4 231.4L1472.9 234.2L1473.6 236.8L1474.3 238.0L1476.6 237.5L1479.3 235.3L1481.3 234.5L1483.5 233.8L1485.6 233.1L1487.7 233.0L1489.7 232.8L1491.9 231.5L1493.7 230.2L1495.7 228.3L1497.7 226.8L1499.4 226.7L1500.8 228.0L1502.0 230.2L1503.2 232.6L1504.5 234.0L1506.5 233.1L1508.7 231.0L1510.8 230.2L1512.3 231.2L1513.9 232.9L1515.4 235.2L1517.1 237.7L1518.3 239.2L1519.6 240.8L1520.8 242.5L1522.1 244.3L1523.4 246.0L1524.6 247.9L1525.6 249.6L1526.5 252.0L1527.4 253.9L1528.3 255.9L1529.1 257.3L1530.0 259.0L1530.9 260.5L1532.5 262.6L1534.1 263.9L1535.6 264.8L1537.2 266.7L1538.1 268.2L1539.0 270.1L1539.9 272.0L1540.8 274.0L1541.7 275.6L1542.6 277.5L1543.5 279.1L1544.8 281.4L1546.0 283.1L1547.3 284.6L1548.5 286.2L1549.8 288.6L1551.1 290.5L1552.4 292.2L1553.7 294.1L1554.9 295.4L1556.1 296.9L1557.8 299.1L1559.5 300.5L1561.2 301.4L1562.7 300.6L1564.4 298.1L1566.0 296.5L1567.5 296.3L1569.3 296.6L1570.9 297.4L1572.5 299.6L1573.3 301.3L1574.2 303.5L1575.1 305.8L1575.9 308.2L1576.7 310.8L1577.5 312.6L1578.8 315.5L1579.9 317.2L1581.3 318.5L1583.2 318.8L1585.4 318.1L1587.6 317.6L1589.7 316.6L1591.9 315.9L1593.9 316.5L1594.8 317.1L1595.7 318.9L1596.5 321.1L1597.3 323.4L1598.1 326.3L1598.9 328.5L1599.8 330.7L1600.7 332.8L1601.6 335.1L1602.4 337.3L1603.3 339.2L1604.0 340.9L1605.2 343.9L1606.3 346.0L1607.3 346.9L1608.2 346.1L1609.2 343.8L1610.3 340.6L1610.8 339.1L1611.4 337.3L1612.0 335.0L1612.7 332.8L1613.3 330.7L1614.0 328.6L1614.7 326.8L1615.3 325.2L1616.5 322.8L1617.8 320.9L1619.0 319.4L1620.4 318.3L1621.9 316.4L1623.5 313.8L1625.1 311.9L1626.6 310.2L1628.4 308.8L1630.1 307.8L1631.7 306.3L1632.7 305.4L1633.6 303.5L1634.5 301.2L1635.5 298.3L1636.0 296.6L1636.5 294.8L1637.0 292.7L1637.6 290.5L1638.1 288.1L1638.7 285.9L1639.3 283.9L1639.9 282.0L1640.5 280.5L1642.0 277.7L1643.6 276.1L1645.2 274.6L1646.8 272.4L1647.6 270.9L1648.4 269.3L1649.2 267.5L1650.0 265.6L1650.8 263.6L1651.6 261.7L1652.4 259.6L1653.1 257.6L1653.7 255.8L1654.3 253.7L1654.8 252.0L1655.3 250.2L1655.9 248.3L1656.4 246.4L1656.9 244.6L1657.5 242.4L1658.1 239.9L1658.5 238.2L1659.0 236.2L1659.5 233.9L1660.0 231.7L1660.5 229.4L1661.0 227.0L1661.5 224.7L1662.0 223.0L1662.5 220.8L1662.9 218.7L1663.4 216.8L1663.7 215.1L1664.0 213.6L1664.3 212.5" fill="none" stroke="#f00" stroke-width="8.3" stroke-linejoin="round" stroke-linecap="butt"/>
<!-- dashed guide lines -->
<g stroke="#000" stroke-width="4.5" stroke-dasharray="15.4 24.35" stroke-linecap="round" fill="none">
<line x1="701.5" y1="22.4" x2="701.5" y2="752.5"/>
<line x1="738.7" y1="22.4" x2="738.7" y2="752.5"/>
<line x1="1333.2" y1="27.5" x2="1333.2" y2="1114.0"/>
<line x1="1376.0" y1="26.2" x2="1376.0" y2="1114.0"/>
<line x1="1559.5" y1="29.5" x2="1559.5" y2="1114.0"/>
</g>
<!-- ticks -->
<g stroke="#000" stroke-width="7.6" stroke-linecap="round">
<line x1="287.8" y1="1108.2" x2="287.8" y2="1117"/>
<line x1="412.9" y1="1096.9" x2="412.9" y2="1117"/>
<line x1="538.1" y1="1108.2" x2="538.1" y2="1117"/>
<line x1="663.2" y1="1096.9" x2="663.2" y2="1117"/>
<line x1="788.3" y1="1108.2" x2="788.3" y2="1117"/>
<line x1="913.4" y1="1096.9" x2="913.4" y2="1117"/>
<line x1="1038.6" y1="1108.2" x2="1038.6" y2="1117"/>
<line x1="1163.7" y1="1096.9" x2="1163.7" y2="1117"/>
<line x1="1288.8" y1="1108.2" x2="1288.8" y2="1117"/>
<line x1="1413.9" y1="1096.9" x2="1413.9" y2="1117"/>
<line x1="1539.1" y1="1108.2" x2="1539.1" y2="1117"/>
</g>
<!-- tick labels -->
<g font-size="75.2" text-anchor="middle">
<text transform="translate(161.7 1201.9)">4000</text>
<text transform="translate(412.9 1201.9)">3500</text>
<text transform="translate(663.2 1201.9)">3000</text>
<text transform="translate(913.4 1201.9)">2500</text>
<text transform="translate(1163.7 1201.9)">2000</text>
<text transform="translate(1413.9 1201.9)">1500</text>
<text transform="translate(1664.2 1201.9)">1000</text>
</g>
<!-- axis titles -->
<text x="467.2" y="1311.8" font-size="97.3">Wavenumber (cm<tspan font-size="58" dy="-47">-1</tspan><tspan dy="47">)</tspan></text>
<text transform="translate(83.4,534.8) rotate(-90)" font-size="97.3" text-anchor="middle">Transmittance (a.u.)</text>
<!-- legend -->
<line x1="264.6" y1="908.9" x2="396.2" y2="908.9" stroke="#000" stroke-width="8.6" stroke-linecap="round"/>
<line x1="264.6" y1="1004.4" x2="396.2" y2="1004.4" stroke="#f00" stroke-width="8.6" stroke-linecap="round"/>
<g font-size="75.6">
<text transform="translate(412.1 929.2) scale(1 1.046)">EDA-RGO</text>
<text transform="translate(413 1024.6) scale(1 1.046)">S/EDA-RGO</text>
<!-- annotations -->
<text transform="translate(333.7 648.6) scale(1 1.046)">C-H</text>
<text transform="translate(338.4 744.7) scale(1 1.046)">C-H</text>
<text transform="translate(947.8 809.5) scale(1 1.046)">C=C</text>
<text transform="translate(978.7 929.9) scale(1 1.046)">N-H</text>
<text transform="translate(1003.3 1033.9) scale(1 1.046)">C-N</text>
</g>
<!-- arrows -->
<path d="M478.3 602.4C485.4 597.7 505.3 582.5 520.8 574.3C536.3 566.0 554.3 557.9 571.1 552.9C587.9 547.9 606.8 545.4 621.5 544.1C636.2 542.9 650.2 545.1 659.3 545.4C668.4 545.7 673.2 545.9 676.0 546.0" fill="none" stroke="#000" stroke-width="4.6" stroke-linecap="round"/>
<path d="M702.6 554.2L676.6 537.4L672.4 551.8Z" fill="#000" stroke="#000" stroke-width="2" stroke-linejoin="round"/>
<path d="M489.3 715.2C495.9 710.2 513.2 694.6 528.9 685.0C544.6 675.4 565.5 664.3 583.7 657.7C602.0 651.1 620.2 648.1 638.4 645.4C656.6 642.7 680.5 642.0 693.1 641.3C705.7 640.6 710.5 641.4 714.0 641.4" fill="none" stroke="#000" stroke-width="4.6" stroke-linecap="round"/>
<path d="M742.4 643.1L713.8 634.0L712.4 648.8Z" fill="#000" stroke="#000" stroke-width="2" stroke-linejoin="round"/>
<path d="M1111.5 776.6C1119.4 771.4 1141.9 754.2 1158.9 745.6C1175.9 737.0 1195.5 729.4 1213.7 724.8C1232.0 720.2 1253.2 718.5 1268.4 717.8C1283.6 717.1 1298.0 719.9 1304.9 720.4C1311.8 720.9 1309.2 720.7 1310.0 720.8" fill="none" stroke="#000" stroke-width="4.6" stroke-linecap="round"/>
<path d="M1335.6 728.3L1311.6 712.4L1305.8 727.2Z" fill="#000" stroke="#000" stroke-width="2" stroke-linejoin="round"/>
<path d="M1119.9 886.1C1126.4 881.2 1143.3 866.3 1158.9 856.9C1174.5 847.5 1195.5 836.3 1213.7 829.5C1232.0 822.7 1250.2 818.9 1268.4 816.0C1286.6 813.1 1310.2 813.0 1323.1 812.4C1336.0 811.8 1342.2 812.3 1346.0 812.3" fill="none" stroke="#000" stroke-width="4.6" stroke-linecap="round"/>
<path d="M1373.0 813.2L1345.2 805.2L1343.8 819.4Z" fill="#000" stroke="#000" stroke-width="2" stroke-linejoin="round"/>
<path d="M1145.0 996.3C1153.4 990.2 1177.9 970.9 1195.4 959.8C1212.9 948.7 1231.8 938.4 1250.1 929.9C1268.3 921.4 1286.7 914.2 1304.9 908.7C1323.2 903.2 1341.4 899.9 1359.6 897.0C1377.8 894.1 1399.1 892.6 1414.3 891.6C1429.5 890.6 1438.6 890.5 1450.8 890.8C1463.0 891.1 1475.1 891.9 1487.3 893.4C1499.5 894.9 1516.5 898.5 1523.8 899.8C1531.1 901.1 1529.8 900.8 1531.0 901.0" fill="none" stroke="#000" stroke-width="4.6" stroke-linecap="round"/>
<path d="M1558.6 909.6L1533.2 893.2L1526.2 907.0Z" fill="#000" stroke="#000" stroke-width="2" stroke-linejoin="round"/>
</svg>
</body></html>
